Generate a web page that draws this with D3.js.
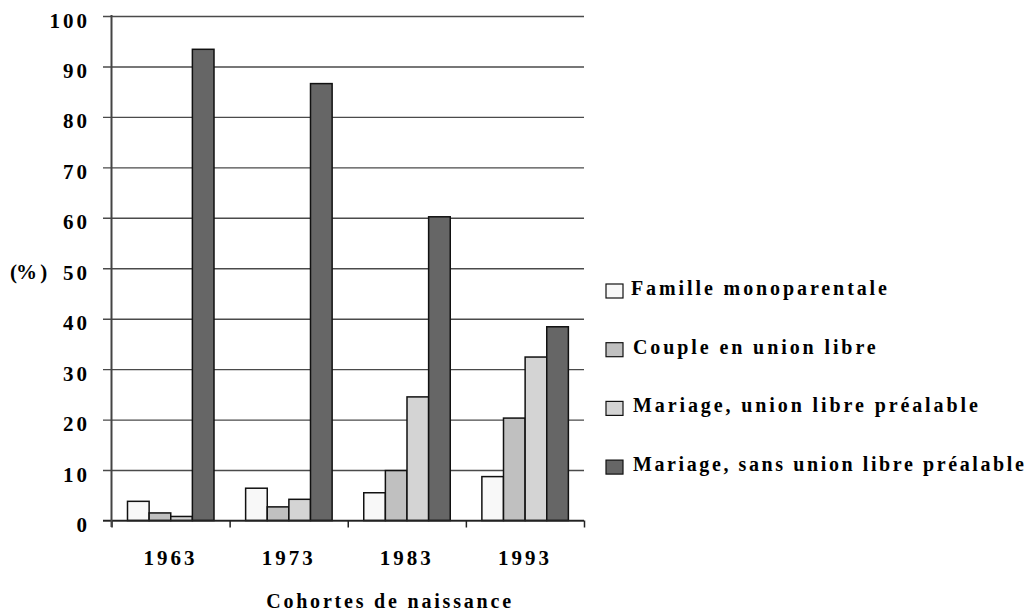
<!DOCTYPE html>
<html>
<head>
<meta charset="utf-8">
<script src="https://d3js.org/d3.v7.min.js"></script>
<style>
  body { margin: 0; background: #fff; }
  text { font-family: "Liberation Serif", "Times New Roman", serif; font-weight: bold; fill: #000; }
</style>
</head>
<body>
<div id="vis"></div>
<script>
// data
var cohorts = ["1963", "1973", "1983", "1993"];
var series = ["Famille monoparentale", "Couple en union libre", "Mariage, union libre préalable", "Mariage, sans union libre préalable"];
var colors = ["#f8f8f8", "#c0c0c0", "#d4d4d4", "#666666"];
var famille = [3.8, 6.4, 5.5, 8.7];
var couple = [1.5, 2.7, 9.9, 20.3];
var mariageUL = [0.8, 4.2, 24.5, 32.4];
var mariageSans = [93.4, 86.6, 60.2, 38.4];
var yTicks = [0, 10, 20, 30, 40, 50, 60, 70, 80, 90, 100];

var values = [famille, couple, mariageUL, mariageSans];

var svg = d3.select("#vis")
  .append("svg")
  .attr("width", 1036)
  .attr("height", 616);

var y = d3.scaleLinear().domain([0, 100]).range([520.5, 16]);
var x0 = d3.scaleBand().domain(cohorts).range([111.5, 584]).padding(0);
var x1 = d3.scaleBand().domain(d3.range(series.length)).range([16, 102.5]).padding(0);

// gridlines
svg.append("g")
  .attr("transform", "translate(584,0)")
  .call(d3.axisLeft(y).tickValues(yTicks).tickSize(481).tickFormat(""))
  .call(function(g) {
    g.select(".domain").remove();
    g.selectAll("line").attr("stroke", "#4a4a4a").attr("stroke-width", 1.4);
  });

// y labels
svg.append("g")
  .attr("transform", "translate(111.5,0)")
  .call(d3.axisLeft(y).tickValues(yTicks).tickSize(0).tickPadding(21.5))
  .call(function(g) {
    g.select(".domain").remove();
    g.selectAll("text")
      .attr("dy", 11)
      .style("font-size", "21px")
      .style("letter-spacing", "3px")
      .attr("fill", "#000");
  });

// bars
var groups = svg.selectAll(".grp")
  .data(cohorts)
  .enter().append("g")
  .attr("class", "grp")
  .attr("transform", function(d) { return "translate(" + x0(d) + ",0)"; });

groups.selectAll("rect")
  .data(function(d, i) { return values.map(function(v, s) { return { s: s, v: v[i] }; }); })
  .enter().append("rect")
  .attr("x", function(d) { return x1(d.s); })
  .attr("width", x1.bandwidth())
  .attr("y", function(d) { return y(d.v); })
  .attr("height", function(d) { return y(0) - y(d.v); })
  .attr("fill", function(d) { return colors[d.s]; })
  .attr("stroke", "#111")
  .attr("stroke-width", 1.5);

// x axis
svg.append("g")
  .attr("transform", "translate(0," + y(0) + ")")
  .call(d3.axisBottom(d3.scaleLinear().domain([0, 4]).range([111.5, 584])).ticks(4).tickSize(7).tickFormat(""))
  .call(function(g) {
    g.select(".domain").remove();
    g.selectAll("line").attr("stroke", "#222").attr("stroke-width", 1.5);
  });
svg.append("line")
  .attr("x1", 103).attr("x2", 584)
  .attr("y1", y(0)).attr("y2", y(0))
  .attr("stroke", "#222").attr("stroke-width", 1.6);

// y axis line
svg.append("line")
  .attr("x1", 111.5).attr("x2", 111.5)
  .attr("y1", 15).attr("y2", 527)
  .attr("stroke", "#444").attr("stroke-width", 2);

// cohort labels
svg.selectAll(".xl")
  .data(cohorts)
  .enter().append("text")
  .attr("class", "xl")
  .attr("x", function(d) { return x0(d) + x0.bandwidth() / 2; })
  .attr("y", 565)
  .attr("text-anchor", "middle")
  .style("font-size", "21px")
  .style("letter-spacing", "3px")
  .text(function(d) { return d; });

svg.append("text")
  .attr("x", 390)
  .attr("y", 608)
  .attr("text-anchor", "middle")
  .style("font-size", "20px")
  .style("letter-spacing", "2.8px")
  .text("Cohortes de naissance");

svg.append("text")
  .attr("x", 10)
  .attr("y", 279)
  .style("font-size", "21px")
  .style("letter-spacing", "-1px")
  .text("(% )");

// legend
var legend = svg.selectAll(".leg")
  .data(series)
  .enter().append("g")
  .attr("class", "leg")
  .attr("transform", function(d, i) { return "translate(606," + (291 + i * 58.7) + ")"; });

legend.append("rect")
  .attr("x", 0).attr("y", -7)
  .attr("width", 17).attr("height", 14)
  .attr("fill", function(d, i) { return colors[i]; })
  .attr("stroke", "#111")
  .attr("stroke-width", 1.2);

legend.append("text")
  .attr("x", function(d, i) { return i == 0 ? 25 : 27; })
  .attr("y", 4)
  .style("font-size", "20px")
  .style("letter-spacing", function(d, i) { return i == 3 ? "2.6px" : "2.9px"; })
  .text(function(d) { return d; });
</script>
</body>
</html>
